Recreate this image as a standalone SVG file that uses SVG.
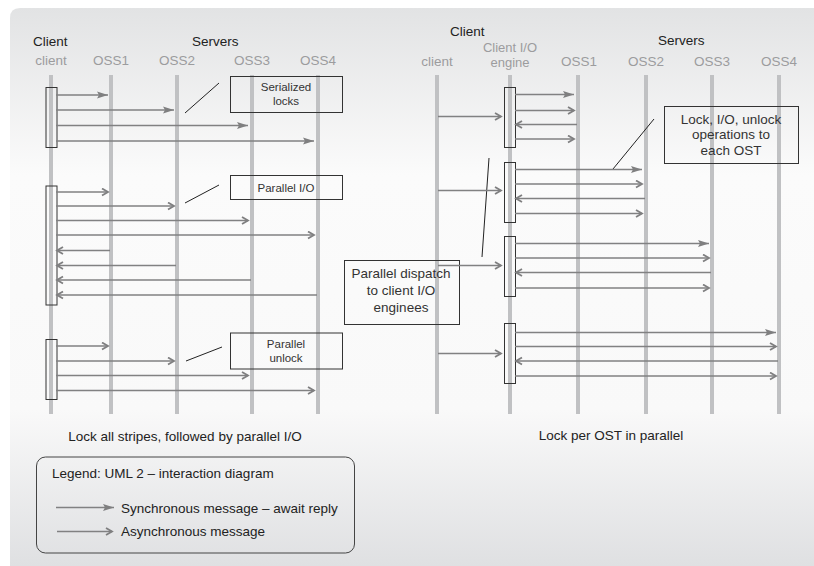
<svg xmlns="http://www.w3.org/2000/svg" width="814" height="566" viewBox="0 0 814 566">
<defs>
<linearGradient id="bg" x1="0" y1="0" x2="0" y2="1">
<stop offset="0" stop-color="#e2e3e4"/>
<stop offset="0.3" stop-color="#fbfbfb"/>
<stop offset="0.72" stop-color="#f9f9f9"/>
<stop offset="1" stop-color="#dfe0e2"/>
</linearGradient>
<marker id="sync" markerUnits="userSpaceOnUse" markerWidth="12" markerHeight="8" refX="11" refY="4" orient="auto">
<path d="M0,0.5 L11,4 L0,7.5 L2,4 Z" fill="#7f7f80"/>
</marker>
<marker id="async" markerUnits="userSpaceOnUse" markerWidth="9" markerHeight="10" refX="7" refY="4.5" orient="auto">
<path d="M1,1 L7,4.5 L1,8" fill="none" stroke="#7f7f80" stroke-width="1.8"/>
</marker>
<style>
text{font-family:"Liberation Sans",Arial,sans-serif;}
.hd{font-size:13.5px;fill:#222;}
.nm{font-size:13.5px;fill:#9c9c9e;text-anchor:middle;}
.nm2{font-size:13px;fill:#9c9c9e;text-anchor:middle;}
.life{stroke:#c0c1c3;stroke-width:4;}
.act{fill:none;stroke:#333;stroke-width:1;}
.note{fill:none;stroke:#333;stroke-width:1;}
.nt{font-size:11.5px;fill:#333;text-anchor:middle;}
.nt2{font-size:13.5px;fill:#333;text-anchor:middle;}
.cap{font-size:13.5px;fill:#222;text-anchor:middle;}
.s{stroke:#818182;stroke-width:1.6;fill:none;marker-end:url(#sync);}
.a{stroke:#818182;stroke-width:1.6;fill:none;marker-end:url(#async);}
.ln{stroke:#222;stroke-width:1;}
</style>
</defs>
<path d="M10,18 Q10,8 20,8 H814 V566 H10 Z" fill="url(#bg)"/>

<!-- Left diagram headers -->
<text class="hd" x="33" y="46">Client</text>
<text class="hd" x="192" y="46">Servers</text>

<g id="L-client"><line class="life" x1="51" y1="75" x2="51" y2="414"/><text class="nm" x="51" y="65">client</text></g>
<g id="L-oss1"><line class="life" x1="111" y1="75" x2="111" y2="414"/><text class="nm" x="111" y="65">OSS1</text></g>
<g id="L-oss2"><line class="life" x1="177" y1="75" x2="177" y2="414"/><text class="nm" x="177" y="65">OSS2</text></g>
<g id="L-oss3"><line class="life" x1="252" y1="75" x2="252" y2="414"/><text class="nm" x="252" y="65">OSS3</text></g>
<g id="L-oss4"><line class="life" x1="318" y1="75" x2="318" y2="414"/><text class="nm" x="318" y="65">OSS4</text></g>

<g id="L-act1"><rect class="act" x="46" y="87.5" width="11" height="60"/></g>
<g id="L-act2"><rect class="act" x="46" y="186" width="11" height="119"/></g>
<g id="L-act3"><rect class="act" x="46" y="339.5" width="11" height="60"/></g>

<g id="note-serialized"><rect class="note" x="230.5" y="76.5" width="112" height="36"/><text class="nt" x="286" y="91">Serialized</text><text class="nt" x="286" y="105">locks</text><line class="ln" x1="185" y1="113" x2="219" y2="83"/></g>
<g id="note-parallelio"><rect class="note" x="230.5" y="175.5" width="112" height="24"/><text class="nt" x="286" y="192">Parallel I/O</text><line class="ln" x1="185" y1="203" x2="219" y2="185"/></g>
<g id="note-unlock"><rect class="note" x="230.5" y="333" width="112" height="36"/><text class="nt" x="286" y="348">Parallel</text><text class="nt" x="286" y="362">unlock</text><line class="ln" x1="186" y1="361" x2="222" y2="347"/></g>

<text class="cap" x="185" y="441">Lock all stripes, followed by parallel I/O</text>

<!-- Right diagram headers -->
<text class="hd" x="450" y="36">Client</text>
<text class="hd" x="658" y="45">Servers</text>

<g id="R-client"><line class="life" x1="437" y1="75" x2="437" y2="414"/><text class="nm" x="437" y="66">client</text></g>
<g id="R-engine"><line class="life" x1="510" y1="75" x2="510" y2="414"/><text class="nm2" x="510" y="52">Client I/O</text><text class="nm2" x="510" y="67">engine</text></g>
<g id="R-oss1"><line class="life" x1="578" y1="75" x2="578" y2="414"/><text class="nm" x="579" y="66">OSS1</text></g>
<g id="R-oss2"><line class="life" x1="646" y1="75" x2="646" y2="414"/><text class="nm" x="646" y="66">OSS2</text></g>
<g id="R-oss3"><line class="life" x1="712" y1="75" x2="712" y2="414"/><text class="nm" x="712" y="66">OSS3</text></g>
<g id="R-oss4"><line class="life" x1="779" y1="75" x2="779" y2="414"/><text class="nm" x="779" y="66">OSS4</text></g>

<g id="R-act1"><rect class="act" x="504.5" y="87.5" width="11" height="60"/></g>
<g id="R-act2"><rect class="act" x="504.5" y="162.5" width="11" height="60"/></g>
<g id="R-act3"><rect class="act" x="504.5" y="236.5" width="11" height="60"/></g>
<g id="R-act4"><rect class="act" x="504.5" y="323.5" width="11" height="60"/></g>

<g id="note-lockio"><rect class="note" x="664.5" y="106.5" width="134" height="57"/><text class="nt2" x="731" y="124">Lock, I/O, unlock</text><text class="nt2" x="731" y="139">operations to</text><text class="nt2" x="731" y="155">each OST</text><line class="ln" x1="654" y1="119" x2="613" y2="169"/></g>
<g id="note-dispatch"><rect class="note" x="344.5" y="260.5" width="115" height="64"/><text class="nt2" x="401" y="278">Parallel dispatch</text><text class="nt2" x="401" y="295">to client I/O</text><text class="nt2" x="401" y="312">enginees</text><line class="ln" x1="489" y1="158" x2="482" y2="257"/></g>

<text class="cap" x="611" y="440">Lock per OST in parallel</text>

<g id="connectors">
<!-- left block 1: serialized locks -->
<line class="s" x1="56" y1="95" x2="108" y2="95"/>
<line class="s" x1="56" y1="110" x2="174" y2="110"/>
<line class="s" x1="56" y1="125.5" x2="248" y2="125.5"/>
<line class="s" x1="56" y1="141" x2="314" y2="141"/>
<!-- left block 2: parallel I/O -->
<line class="a" x1="56" y1="192" x2="108" y2="192"/>
<line class="a" x1="56" y1="206" x2="174" y2="206"/>
<line class="a" x1="56" y1="220.5" x2="248" y2="220.5"/>
<line class="a" x1="56" y1="235" x2="314" y2="235"/>
<line class="a" x1="110" y1="250.5" x2="57" y2="250.5"/>
<line class="a" x1="176" y1="265.5" x2="57" y2="265.5"/>
<line class="a" x1="251" y1="280" x2="57" y2="280"/>
<line class="a" x1="317" y1="295" x2="57" y2="295"/>
<!-- left block 3: unlock -->
<line class="a" x1="56" y1="346" x2="108" y2="346"/>
<line class="a" x1="56" y1="361" x2="174" y2="361"/>
<line class="a" x1="56" y1="375.5" x2="248" y2="375.5"/>
<line class="a" x1="56" y1="390.5" x2="314" y2="390.5"/>
<!-- right: client to engine -->
<line class="a" x1="438" y1="116.5" x2="501" y2="116.5"/>
<line class="a" x1="438" y1="190.5" x2="501" y2="190.5"/>
<line class="a" x1="438" y1="265.5" x2="501" y2="265.5"/>
<line class="a" x1="438" y1="353.5" x2="501" y2="353.5"/>
<!-- right block 1: OSS1 -->
<line class="s" x1="515" y1="94.5" x2="574" y2="94.5"/>
<line class="a" x1="515" y1="110.5" x2="574" y2="110.5"/>
<line class="a" x1="577" y1="124.5" x2="516" y2="124.5"/>
<line class="a" x1="515" y1="139" x2="574" y2="139"/>
<!-- right block 2: OSS2 -->
<line class="s" x1="515" y1="169.5" x2="642" y2="169.5"/>
<line class="a" x1="515" y1="184" x2="642" y2="184"/>
<line class="a" x1="645" y1="198.5" x2="516" y2="198.5"/>
<line class="a" x1="515" y1="213.5" x2="642" y2="213.5"/>
<!-- right block 3: OSS3 -->
<line class="s" x1="515" y1="243.5" x2="709" y2="243.5"/>
<line class="a" x1="515" y1="258" x2="709" y2="258"/>
<line class="a" x1="711" y1="272.5" x2="516" y2="272.5"/>
<line class="a" x1="515" y1="288" x2="709" y2="288"/>
<!-- right block 4: OSS4 -->
<line class="s" x1="515" y1="332.5" x2="776" y2="332.5"/>
<line class="a" x1="515" y1="346.5" x2="776" y2="346.5"/>
<line class="a" x1="778" y1="361" x2="516" y2="361"/>
<line class="a" x1="515" y1="376" x2="776" y2="376"/>
</g>

<g id="legend">
<rect x="36.5" y="457" width="318" height="96" rx="9" fill="none" stroke="#444" stroke-width="1"/>
<text x="52" y="478" style="font-size:13.5px;fill:#222">Legend: UML 2 – interaction diagram</text>
<line class="s" x1="56" y1="507.5" x2="114" y2="507.5"/>
<text x="121" y="513" style="font-size:13.5px;fill:#222">Synchronous message – await reply</text>
<line class="a" x1="57" y1="531.5" x2="112" y2="531.5"/>
<text x="121" y="536" style="font-size:13.5px;fill:#222">Asynchronous message</text>
</g>
</svg>
